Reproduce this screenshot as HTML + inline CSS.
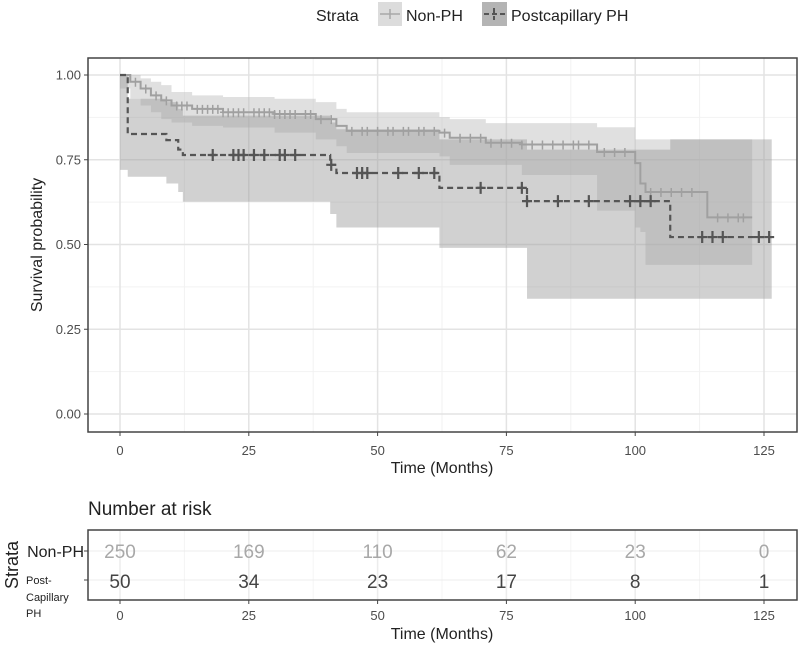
<!DOCTYPE html>
<html><head><meta charset="utf-8"><style>
body{margin:0;background:#fff}
svg{display:block;font-family:"Liberation Sans",Arial,sans-serif}
</style></head><body>
<svg id="c" width="800" height="649" viewBox="0 0 800 649"></svg>
<script>
const nonTimes=[0,2,4,6,8,10,14,20,30,38,42,44,62,64,71,78,92.6,100,101,102,114,122.7];
const nonSurv=[1,0.98,0.96,0.94,0.925,0.91,0.9,0.89,0.885,0.87,0.85,0.835,0.83,0.815,0.8,0.795,0.773,0.74,0.68,0.655,0.58,0.58];
const nonUp=[1,1,0.99,0.98,0.97,0.95,0.94,0.935,0.93,0.92,0.9,0.89,0.876,0.87,0.858,0.858,0.846,0.81,0.81,0.81,0.81,0.81];
const nonLo=[1,0.96,0.93,0.91,0.89,0.87,0.86,0.85,0.845,0.83,0.81,0.79,0.77,0.76,0.735,0.735,0.705,0.6,0.55,0.537,0.44,0.44];
const nonCens=[3,5,7,9,11,12,13,15,16,17,18,19,20,21,22,23,24,26,27,28,29,30,31,32,33,34,36,37,39,41,45,47,48,50,52,53,55,56,58,59,61,63,66,68,70,72,74,76,78,80,82,84,86,88,89,91,94,96,98,103,105,107,109,111,116,118,120,121];
const postTimes=[0,1.5,9,11.3,12.2,40.8,42,62,79,106.8,126.5];
const postSurv=[1,0.826,0.808,0.78,0.764,0.735,0.711,0.667,0.628,0.522,0.522];
const postUp=[1,0.93,0.92,0.9,0.88,0.86,0.84,0.81,0.78,0.81,0.81];
const postLo=[1,0.72,0.7,0.68,0.655,0.626,0.59,0.55,0.49,0.34,0.34];
const postCens=[18,22,23,24,26,28,31,32,34,41,46,47,48,54,58,61,70,78,79,85,91,99,101,103,113,115,117,124,126];
const xTicks=[0,25,50,75,100,125];
const yTicks=[0,0.25,0.5,0.75,1];
const yTickLabels=["0.00","0.25","0.50","0.75","1.00"];
const riskNon=[250,169,110,62,23,0];
const riskPost=[50,34,23,17,8,1];

const svg=document.getElementById('c');
const NS='http://www.w3.org/2000/svg';
const L=88,R=797,T=58,B=432;
const x=t=>120+t*5.152;
const y=s=>414-s*339;
function mk(tag,attrs,parent){const e=document.createElementNS(NS,tag);for(const k in attrs)e.setAttribute(k,attrs[k]);(parent||svg).appendChild(e);return e;}
function txt(s,a,parent){const e=mk('text',a,parent);e.textContent=s;return e;}
function stepPath(ts,vs){let d=`M${x(ts[0])},${y(vs[0])}`;for(let i=1;i<ts.length;i++){d+=`H${x(ts[i])}V${y(vs[i])}`;}return d;}
function bandPath(ts,up,lo){let d=`M${x(ts[0])},${y(up[0])}`;for(let i=1;i<ts.length;i++)d+=`H${x(ts[i])}V${y(up[i])}`;d+=`V${y(lo[lo.length-1])}`;for(let i=ts.length-1;i>0;i--)d+=`V${y(lo[i])}H${x(ts[i-1])}`;d+=`V${y(lo[0])}Z`;return d;}
function survAt(ts,vs,t){let v=vs[0];for(let i=0;i<ts.length;i++){if(ts[i]<=t)v=vs[i];}return v;}

const panel=mk('rect',{x:L,y:T,width:R-L,height:B-T,fill:'#fff'});

[12.5,37.5,62.5,87.5,112.5].forEach(t=>mk('line',{x1:x(t),x2:x(t),y1:T,y2:B,stroke:'#f2f2f2','stroke-width':1}));
[0.125,0.375,0.625,0.875].forEach(s=>mk('line',{x1:L,x2:R,y1:y(s),y2:y(s),stroke:'#f2f2f2','stroke-width':1}));
xTicks.forEach(t=>{const g=mk('line',{x1:x(t),x2:x(t),y1:T,y2:B,stroke:'#e3e3e3','stroke-width':1.5});});
yTicks.forEach(s=>{const g=mk('line',{x1:L,x2:R,y1:y(s),y2:y(s),stroke:'#e3e3e3','stroke-width':1.5});});

const b1=mk('path',{d:bandPath(nonTimes,nonUp,nonLo),fill:'#bbbbbb','fill-opacity':0.45});

const b2=mk('path',{d:bandPath(postTimes,postUp,postLo),fill:'#999999','fill-opacity':0.45});


const l1=mk('path',{d:stepPath(nonTimes,nonSurv),fill:'none',stroke:'#a0a0a0','stroke-width':2});

nonCens.forEach(t=>{const g=mk('path',{d:`M${x(t)-3},${y(survAt(nonTimes,nonSurv,t))}h6M${x(t)},${y(survAt(nonTimes,nonSurv,t))-4}v9`,stroke:'#a0a0a0','stroke-width':1.5});});
const l2=mk('path',{d:stepPath(postTimes,postSurv),fill:'none',stroke:'#555','stroke-width':2.2,'stroke-dasharray':'6,4'});

postCens.forEach(t=>{const g=mk('path',{d:`M${x(t)-5},${y(survAt(postTimes,postSurv,t))}h10M${x(t)},${y(survAt(postTimes,postSurv,t))-6}v12`,stroke:'#555','stroke-width':2.2});});

const fr=mk('rect',{x:L,y:T,width:R-L,height:B-T,fill:'none',stroke:'#444','stroke-width':1.5});

xTicks.forEach(t=>{mk('line',{x1:x(t),x2:x(t),y1:B,y2:B+4,stroke:'#444'});const e=txt(String(t),{x:x(t),y:455,'text-anchor':'middle','font-size':13,fill:'#4d4d4d'});});
yTicks.forEach((s,i)=>{mk('line',{x1:L-4,x2:L,y1:y(s),y2:y(s),stroke:'#444'});const e=txt(yTickLabels[i],{x:L-7,y:y(s)+4.5,'text-anchor':'end','font-size':13,fill:'#4d4d4d'});});
let e=txt('Time (Months)',{x:442,y:473,'text-anchor':'middle','font-size':16,fill:'#222'});
e=txt('Survival probability',{x:0,y:0,'text-anchor':'middle','font-size':16,fill:'#222',transform:'translate(42,245) rotate(-90)'});

e=txt('Strata',{x:316,y:21,'font-size':16,fill:'#222'});
let k=mk('rect',{x:378,y:2,width:24,height:24,fill:'#dcdcdc'});
mk('path',{d:'M380,14h20M390,9v10',stroke:'#a8a8a8','stroke-width':1.5});
e=txt('Non-PH',{x:406,y:21,'font-size':16,fill:'#222'});
k=mk('rect',{x:482,y:2,width:25,height:24,fill:'#b4b4b4'});
mk('path',{d:'M484,14h21M494,8v12',stroke:'#555','stroke-width':2,'stroke-dasharray':'5,3'});
e=txt('Postcapillary PH',{x:511,y:21,'font-size':16,fill:'#222'});

e=txt('Number at risk',{x:88,y:515,'font-size':19,fill:'#222'});
const RT=530,RB=600;
xTicks.forEach(t=>mk('line',{x1:x(t),x2:x(t),y1:RT,y2:RB,stroke:'#ececec','stroke-width':1.5}));
[12.5,37.5,62.5,87.5,112.5].forEach(t=>mk('line',{x1:x(t),x2:x(t),y1:RT,y2:RB,stroke:'#f4f4f4'}));
mk('line',{x1:L,x2:R,y1:551,y2:551,stroke:'#ececec'});mk('line',{x1:L,x2:R,y1:580,y2:580,stroke:'#ececec'});
riskNon.forEach((v,i)=>{const t=txt(String(v),{x:x(xTicks[i]),y:558,'text-anchor':'middle','font-size':19,fill:'#a8a8a8'});});
riskPost.forEach((v,i)=>{const t=txt(String(v),{x:x(xTicks[i]),y:588,'text-anchor':'middle','font-size':19,fill:'#444'});});
const rf=mk('rect',{x:L,y:RT,width:R-L,height:RB-RT,fill:'none',stroke:'#444','stroke-width':1.5});

mk('line',{x1:84,x2:88,y1:551,y2:551,stroke:'#444'});mk('line',{x1:84,x2:88,y1:580,y2:580,stroke:'#444'});
e=txt('Non-PH',{x:84,y:557,'text-anchor':'end','font-size':16,fill:'#222'});
e=txt('Post-',{x:26,y:584,'font-size':11,fill:'#222'});
txt('Capillary',{x:26,y:601,'font-size':11,fill:'#222'});
txt('PH',{x:26,y:617,'font-size':11,fill:'#222'});
e=txt('Strata',{x:0,y:0,'text-anchor':'middle','font-size':18,fill:'#222',transform:'translate(18,565) rotate(-90)'});
xTicks.forEach(t=>{mk('line',{x1:x(t),x2:x(t),y1:RB,y2:RB+4,stroke:'#444'});const q=txt(String(t),{x:x(t),y:620,'text-anchor':'middle','font-size':13,fill:'#4d4d4d'});});
e=txt('Time (Months)',{x:442,y:639,'text-anchor':'middle','font-size':16,fill:'#222'});
</script>
</body></html>
